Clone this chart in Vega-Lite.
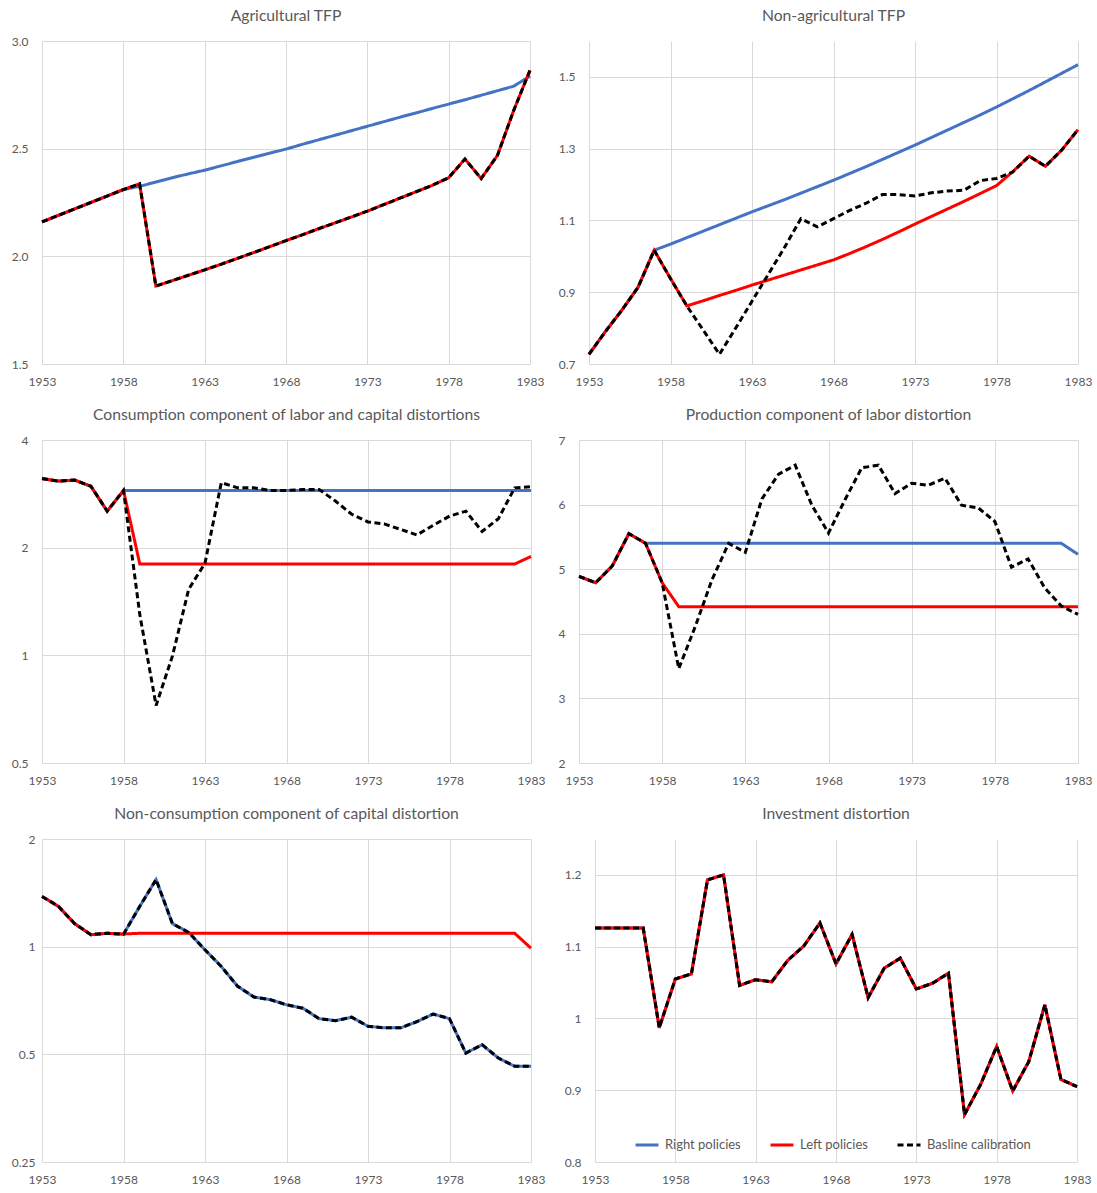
{
  "$schema": "https://vega.github.io/schema/vega-lite/v6.json",
  "padding": {"left": 11, "top": 8, "right": 0, "bottom": 0},
  "background": "#ffffff",
  "config": {
    "font": "Lato",
    "view": {"stroke": null},
    "axis": {"grid": true, "gridColor": "#d9d9d9", "gridWidth": 1, "domain": false, "ticks": false, "tickSize": 0, "labelFont": "Lato", "labelFontSize": 12, "labelColor": "#595959"},
    "axisX": {"labelPadding": 12, "labelFlush": false, "labelOverlap": false, "minExtent": 28},
    "axisY": {"labelPadding": 14},
    "title": {"font": "Lato", "fontSize": 15.7, "fontWeight": "normal", "color": "#595959", "offset": 16, "anchor": "middle"},
    "line": {"strokeCap": "butt"}
  },
  "datasets": {
    "p1": [
      {"y":1953,"R":2.16,"L":2.16,"B":2.16},{"y":1954,"R":2.19,"L":2.19,"B":2.19},{"y":1955,"R":2.22,"L":2.22,"B":2.22},{"y":1956,"R":2.25,"L":2.25,"B":2.25},{"y":1957,"R":2.28,"L":2.28,"B":2.28},{"y":1958,"R":2.31,"L":2.31,"B":2.31},
      {"y":1959,"R":2.325,"L":2.337,"B":2.337},{"y":1960,"R":2.345,"L":1.862,"B":1.862},{"y":1961,"R":2.365,"L":1.887,"B":1.887},{"y":1962,"R":2.383,"L":1.912,"B":1.912},{"y":1963,"R":2.4,"L":1.937,"B":1.937},{"y":1964,"R":2.42,"L":1.963,"B":1.963},{"y":1965,"R":2.44,"L":1.99,"B":1.99},{"y":1966,"R":2.46,"L":2.017,"B":2.017},{"y":1967,"R":2.479,"L":2.045,"B":2.045},{"y":1968,"R":2.498,"L":2.073,"B":2.073},{"y":1969,"R":2.52,"L":2.1,"B":2.1},{"y":1970,"R":2.541,"L":2.128,"B":2.128},{"y":1971,"R":2.562,"L":2.155,"B":2.155},{"y":1972,"R":2.583,"L":2.182,"B":2.182},{"y":1973,"R":2.604,"L":2.21,"B":2.21},{"y":1974,"R":2.625,"L":2.24,"B":2.24},{"y":1975,"R":2.646,"L":2.27,"B":2.27},{"y":1976,"R":2.666,"L":2.3,"B":2.3},{"y":1977,"R":2.687,"L":2.33,"B":2.33},{"y":1978,"R":2.707,"L":2.365,"B":2.365},{"y":1979,"R":2.727,"L":2.452,"B":2.452},{"y":1980,"R":2.748,"L":2.361,"B":2.361},{"y":1981,"R":2.769,"L":2.469,"B":2.469},{"y":1982,"R":2.79,"L":2.678,"B":2.678},{"y":1983,"R":2.837,"L":2.864,"B":2.864}
    ],
    "p2": [
      {"y":1953,"R":0.727,"L":0.727,"B":0.727},{"y":1954,"R":0.79,"L":0.79,"B":0.79},{"y":1955,"R":0.849,"L":0.849,"B":0.849},{"y":1956,"R":0.913,"L":0.913,"B":0.913},{"y":1957,"R":1.017,"L":1.017,"B":1.017},
      {"y":1958,"R":1.034,"L":0.938,"B":0.938},{"y":1959,"R":1.052,"L":0.862,"B":0.862},{"y":1960,"R":1.07,"L":0.876,"B":0.795},{"y":1961,"R":1.088,"L":0.891,"B":0.727},{"y":1962,"R":1.106,"L":0.905,"B":0.8},{"y":1963,"R":1.124,"L":0.92,"B":0.875},{"y":1964,"R":1.141,"L":0.934,"B":0.95},{"y":1965,"R":1.158,"L":0.948,"B":1.025},{"y":1966,"R":1.176,"L":0.962,"B":1.105},{"y":1967,"R":1.194,"L":0.976,"B":1.082},{"y":1968,"R":1.212,"L":0.99,"B":1.105},{"y":1969,"R":1.231,"L":1.008,"B":1.128},{"y":1970,"R":1.25,"L":1.027,"B":1.148},{"y":1971,"R":1.27,"L":1.047,"B":1.172},{"y":1972,"R":1.29,"L":1.068,"B":1.172},{"y":1973,"R":1.31,"L":1.09,"B":1.168},{"y":1974,"R":1.331,"L":1.111,"B":1.177},{"y":1975,"R":1.352,"L":1.132,"B":1.182},{"y":1976,"R":1.373,"L":1.153,"B":1.184},{"y":1977,"R":1.394,"L":1.175,"B":1.211},{"y":1978,"R":1.416,"L":1.197,"B":1.217},{"y":1979,"R":1.439,"L":1.236,"B":1.235},{"y":1980,"R":1.462,"L":1.279,"B":1.279},{"y":1981,"R":1.486,"L":1.251,"B":1.251},{"y":1982,"R":1.51,"L":1.296,"B":1.296},{"y":1983,"R":1.534,"L":1.353,"B":1.353}
    ],
    "p3": [
      {"y":1953,"R":3.12,"L":3.12,"B":3.12},{"y":1954,"R":3.07,"L":3.07,"B":3.07},{"y":1955,"R":3.09,"L":3.09,"B":3.09},{"y":1956,"R":2.97,"L":2.97,"B":2.97},{"y":1957,"R":2.53,"L":2.53,"B":2.53},{"y":1958,"R":2.89,"L":2.89,"B":2.89},
      {"y":1959,"R":2.89,"L":1.8,"B":1.3},{"y":1960,"R":2.89,"L":1.8,"B":0.724},{"y":1961,"R":2.89,"L":1.8,"B":0.995},{"y":1962,"R":2.89,"L":1.8,"B":1.53},{"y":1963,"R":2.89,"L":1.8,"B":1.81},{"y":1964,"R":2.89,"L":1.8,"B":3.04},{"y":1965,"R":2.89,"L":1.8,"B":2.94},{"y":1966,"R":2.89,"L":1.8,"B":2.94},{"y":1967,"R":2.89,"L":1.8,"B":2.89},{"y":1968,"R":2.89,"L":1.8,"B":2.89},{"y":1969,"R":2.89,"L":1.8,"B":2.91},{"y":1970,"R":2.89,"L":1.8,"B":2.91},{"y":1971,"R":2.89,"L":1.8,"B":2.7},{"y":1972,"R":2.89,"L":1.8,"B":2.48},{"y":1973,"R":2.89,"L":1.8,"B":2.36},{"y":1974,"R":2.89,"L":1.8,"B":2.33},{"y":1975,"R":2.89,"L":1.8,"B":2.25},{"y":1976,"R":2.89,"L":1.8,"B":2.17},{"y":1977,"R":2.89,"L":1.8,"B":2.31},{"y":1978,"R":2.89,"L":1.8,"B":2.45},{"y":1979,"R":2.89,"L":1.8,"B":2.53},{"y":1980,"R":2.89,"L":1.8,"B":2.22},{"y":1981,"R":2.89,"L":1.8,"B":2.41},{"y":1982,"R":2.89,"L":1.8,"B":2.94},{"y":1983,"R":2.89,"L":1.89,"B":2.96}
    ],
    "p4": [
      {"y":1953,"R":4.89,"L":4.89,"B":4.89},{"y":1954,"R":4.79,"L":4.79,"B":4.79},{"y":1955,"R":5.05,"L":5.05,"B":5.05},{"y":1956,"R":5.55,"L":5.55,"B":5.55},{"y":1957,"R":5.4,"L":5.4,"B":5.4},
      {"y":1958,"R":5.4,"L":4.79,"B":4.79},{"y":1959,"R":5.4,"L":4.42,"B":3.46},{"y":1960,"R":5.4,"L":4.42,"B":4.12},{"y":1961,"R":5.4,"L":4.42,"B":4.84},{"y":1962,"R":5.4,"L":4.42,"B":5.4},{"y":1963,"R":5.4,"L":4.42,"B":5.26},{"y":1964,"R":5.4,"L":4.42,"B":6.09},{"y":1965,"R":5.4,"L":4.42,"B":6.47},{"y":1966,"R":5.4,"L":4.42,"B":6.61},{"y":1967,"R":5.4,"L":4.42,"B":5.99},{"y":1968,"R":5.4,"L":4.42,"B":5.56},{"y":1969,"R":5.4,"L":4.42,"B":6.08},{"y":1970,"R":5.4,"L":4.42,"B":6.57},{"y":1971,"R":5.4,"L":4.42,"B":6.61},{"y":1972,"R":5.4,"L":4.42,"B":6.17},{"y":1973,"R":5.4,"L":4.42,"B":6.33},{"y":1974,"R":5.4,"L":4.42,"B":6.3},{"y":1975,"R":5.4,"L":4.42,"B":6.41},{"y":1976,"R":5.4,"L":4.42,"B":5.99},{"y":1977,"R":5.4,"L":4.42,"B":5.95},{"y":1978,"R":5.4,"L":4.42,"B":5.74},{"y":1979,"R":5.4,"L":4.42,"B":5.03},{"y":1980,"R":5.4,"L":4.42,"B":5.16},{"y":1981,"R":5.4,"L":4.42,"B":4.71},{"y":1982,"R":5.4,"L":4.42,"B":4.43},{"y":1983,"R":5.23,"L":4.42,"B":4.3}
    ],
    "p5": [
      {"y":1953,"R":1.382,"L":1.382,"B":1.382},{"y":1954,"R":1.297,"L":1.297,"B":1.297},{"y":1955,"R":1.16,"L":1.16,"B":1.16},{"y":1956,"R":1.08,"L":1.08,"B":1.08},{"y":1957,"R":1.09,"L":1.09,"B":1.09},{"y":1958,"R":1.083,"L":1.085,"B":1.083},
      {"y":1959,"R":1.297,"L":1.09,"B":1.297},{"y":1960,"R":1.54,"L":1.09,"B":1.54},{"y":1961,"R":1.16,"L":1.09,"B":1.16},{"y":1962,"R":1.096,"L":1.09,"B":1.096},{"y":1963,"R":0.98,"L":1.09,"B":0.98},{"y":1964,"R":0.88,"L":1.09,"B":0.88},{"y":1965,"R":0.775,"L":1.09,"B":0.775},{"y":1966,"R":0.723,"L":1.09,"B":0.723},{"y":1967,"R":0.711,"L":1.09,"B":0.711},{"y":1968,"R":0.688,"L":1.09,"B":0.688},{"y":1969,"R":0.673,"L":1.09,"B":0.673},{"y":1970,"R":0.629,"L":1.09,"B":0.629},{"y":1971,"R":0.621,"L":1.09,"B":0.621},{"y":1972,"R":0.635,"L":1.09,"B":0.635},{"y":1973,"R":0.599,"L":1.09,"B":0.599},{"y":1974,"R":0.593,"L":1.09,"B":0.593},{"y":1975,"R":0.593,"L":1.09,"B":0.593},{"y":1976,"R":0.617,"L":1.09,"B":0.617},{"y":1977,"R":0.648,"L":1.09,"B":0.648},{"y":1978,"R":0.629,"L":1.09,"B":0.629},{"y":1979,"R":0.504,"L":1.09,"B":0.504},{"y":1980,"R":0.532,"L":1.09,"B":0.532},{"y":1981,"R":0.488,"L":1.09,"B":0.488},{"y":1982,"R":0.463,"L":1.09,"B":0.463},{"y":1983,"R":0.463,"L":0.99,"B":0.463}
    ],
    "p6": [
      {"y":1953,"R":1.126,"L":1.126,"B":1.126},{"y":1954,"R":1.126,"L":1.126,"B":1.126},{"y":1955,"R":1.126,"L":1.126,"B":1.126},{"y":1956,"R":1.126,"L":1.126,"B":1.126},{"y":1957,"R":0.987,"L":0.987,"B":0.987},{"y":1958,"R":1.055,"L":1.055,"B":1.055},{"y":1959,"R":1.062,"L":1.062,"B":1.062},{"y":1960,"R":1.193,"L":1.193,"B":1.193},{"y":1961,"R":1.2,"L":1.2,"B":1.2},{"y":1962,"R":1.046,"L":1.046,"B":1.046},{"y":1963,"R":1.054,"L":1.054,"B":1.054},{"y":1964,"R":1.051,"L":1.051,"B":1.051},{"y":1965,"R":1.081,"L":1.081,"B":1.081},{"y":1966,"R":1.101,"L":1.101,"B":1.101},{"y":1967,"R":1.133,"L":1.133,"B":1.133},{"y":1968,"R":1.076,"L":1.076,"B":1.076},{"y":1969,"R":1.117,"L":1.117,"B":1.117},{"y":1970,"R":1.029,"L":1.029,"B":1.029},{"y":1971,"R":1.07,"L":1.07,"B":1.07},{"y":1972,"R":1.084,"L":1.084,"B":1.084},{"y":1973,"R":1.041,"L":1.041,"B":1.041},{"y":1974,"R":1.049,"L":1.049,"B":1.049},{"y":1975,"R":1.063,"L":1.063,"B":1.063},{"y":1976,"R":0.866,"L":0.866,"B":0.866},{"y":1977,"R":0.908,"L":0.908,"B":0.908},{"y":1978,"R":0.961,"L":0.961,"B":0.961},{"y":1979,"R":0.899,"L":0.899,"B":0.899},{"y":1980,"R":0.94,"L":0.94,"B":0.94},{"y":1981,"R":1.019,"L":1.019,"B":1.019},{"y":1982,"R":0.915,"L":0.915,"B":0.915},{"y":1983,"R":0.905,"L":0.905,"B":0.905}
    ]
  },
  "resolve": {"legend": {"color": "independent", "strokeDash": "independent"}},
  "columns": 2,
  "align": "none",
  "spacing": {"row": 15, "column": 13},
  "concat": [
    {
      "width": 488, "height": 323, "title": {"text": "Agricultural TFP", "offset": 10},
      "data": {"name": "p1"},
      "transform": [{"fold": ["R", "L", "B"], "as": ["s", "v"]}],
      "mark": {"type": "line"},
      "encoding": {
        "x": {"field": "y", "type": "quantitative", "title": null, "scale": {"domain": [1953, 1983], "nice": false, "zero": false}, "axis": {"values": [1953, 1958, 1963, 1968, 1973, 1978, 1983], "format": "d"}},
        "y": {"field": "v", "type": "quantitative", "title": null, "scale": {"domain": [1.5, 3], "nice": false, "zero": false}, "axis": {"values": [1.5, 2, 2.5, 3], "format": ".1f", "minExtent": 30}},
        "color": {"field": "s", "type": "nominal", "scale": {"domain": ["R", "L", "B"], "range": ["#4472C4", "#FF0000", "#000000"]}, "legend": null},
        "strokeDash": {"field": "s", "type": "nominal", "scale": {"domain": ["R", "L", "B"], "range": [[1, 0], [1, 0], [6, 3.5]]}, "legend": null},
        "strokeWidth": {"field": "s", "type": "ordinal", "scale": {"domain": ["R", "L", "B"], "range": [3, 3, 2.25]}, "legend": null}
      }
    },
    {
      "width": 489, "height": 323, "title": {"text": "Non-agricultural TFP", "offset": 16},
      "data": {"name": "p2"},
      "transform": [{"fold": ["R", "L", "B"], "as": ["s", "v"]}],
      "mark": {"type": "line"},
      "encoding": {
        "x": {"field": "y", "type": "quantitative", "title": null, "scale": {"domain": [1953, 1983], "nice": false, "zero": false}, "axis": {"values": [1953, 1958, 1963, 1968, 1973, 1978, 1983], "format": "d"}},
        "y": {"field": "v", "type": "quantitative", "title": null, "scale": {"domain": [0.7, 1.6], "nice": false, "zero": false}, "axis": {"values": [0.7, 0.9, 1.1, 1.3, 1.5], "format": ".1f", "minExtent": 31}},
        "color": {"field": "s", "type": "nominal", "scale": {"domain": ["R", "L", "B"], "range": ["#4472C4", "#FF0000", "#000000"]}, "legend": null},
        "strokeDash": {"field": "s", "type": "nominal", "scale": {"domain": ["R", "L", "B"], "range": [[1, 0], [1, 0], [6, 3.5]]}, "legend": null},
        "strokeWidth": {"field": "s", "type": "ordinal", "scale": {"domain": ["R", "L", "B"], "range": [3, 3, 2.25]}, "legend": null}
      }
    },
    {
      "width": 489, "height": 323, "title": {"text": "Consumption component of labor and capital distortions", "offset": 10},
      "data": {"name": "p3"},
      "transform": [{"fold": ["R", "L", "B"], "as": ["s", "v"]}],
      "mark": {"type": "line"},
      "encoding": {
        "x": {"field": "y", "type": "quantitative", "title": null, "scale": {"domain": [1953, 1983], "nice": false, "zero": false}, "axis": {"values": [1953, 1958, 1963, 1968, 1973, 1978, 1983], "format": "d"}},
        "y": {"field": "v", "type": "quantitative", "title": null, "scale": {"type": "log", "base": 2, "domain": [0.5, 4], "nice": false}, "axis": {"values": [0.5, 1, 2, 4], "format": "~g", "minExtent": 30}},
        "color": {"field": "s", "type": "nominal", "scale": {"domain": ["R", "L", "B"], "range": ["#4472C4", "#FF0000", "#000000"]}, "legend": null},
        "strokeDash": {"field": "s", "type": "nominal", "scale": {"domain": ["R", "L", "B"], "range": [[1, 0], [1, 0], [6, 3.5]]}, "legend": null},
        "strokeWidth": {"field": "s", "type": "ordinal", "scale": {"domain": ["R", "L", "B"], "range": [3, 3, 2.25]}, "legend": null}
      }
    },
    {
      "width": 499, "height": 323, "title": {"text": "Production component of labor distortion", "offset": 10},
      "data": {"name": "p4"},
      "transform": [{"fold": ["R", "L", "B"], "as": ["s", "v"]}],
      "mark": {"type": "line"},
      "encoding": {
        "x": {"field": "y", "type": "quantitative", "title": null, "scale": {"domain": [1953, 1983], "nice": false, "zero": false}, "axis": {"values": [1953, 1958, 1963, 1968, 1973, 1978, 1983], "format": "d"}},
        "y": {"field": "v", "type": "quantitative", "title": null, "scale": {"domain": [2, 7], "nice": false, "zero": false}, "axis": {"values": [2, 3, 4, 5, 6, 7], "format": "d", "minExtent": 20}},
        "color": {"field": "s", "type": "nominal", "scale": {"domain": ["R", "L", "B"], "range": ["#4472C4", "#FF0000", "#000000"]}, "legend": null},
        "strokeDash": {"field": "s", "type": "nominal", "scale": {"domain": ["R", "L", "B"], "range": [[1, 0], [1, 0], [6, 3.5]]}, "legend": null},
        "strokeWidth": {"field": "s", "type": "ordinal", "scale": {"domain": ["R", "L", "B"], "range": [3, 3, 2.25]}, "legend": null}
      }
    },
    {
      "width": 489, "height": 323, "title": {"text": "Non-consumption component of capital distortion", "offset": 10},
      "data": {"name": "p5"},
      "transform": [{"fold": ["R", "L", "B"], "as": ["s", "v"]}],
      "mark": {"type": "line"},
      "encoding": {
        "x": {"field": "y", "type": "quantitative", "title": null, "scale": {"domain": [1953, 1983], "nice": false, "zero": false}, "axis": {"values": [1953, 1958, 1963, 1968, 1973, 1978, 1983], "format": "d"}},
        "y": {"field": "v", "type": "quantitative", "title": null, "scale": {"type": "log", "base": 2, "domain": [0.25, 2], "nice": false}, "axis": {"values": [0.25, 0.5, 1, 2], "format": "~g", "labelPadding": 7, "minExtent": 30}},
        "color": {"field": "s", "type": "nominal", "scale": {"domain": ["R", "L", "B"], "range": ["#4472C4", "#FF0000", "#000000"]}, "legend": null},
        "strokeDash": {"field": "s", "type": "nominal", "scale": {"domain": ["R", "L", "B"], "range": [[1, 0], [1, 0], [6, 3.5]]}, "legend": null},
        "strokeWidth": {"field": "s", "type": "ordinal", "scale": {"domain": ["R", "L", "B"], "range": [3, 3, 2.25]}, "legend": null}
      }
    },
    {
      "width": 482, "height": 323, "title": {"text": "Investment distortion", "offset": 16},
      "data": {"name": "p6"},
      "transform": [{"fold": ["R", "L", "B"], "as": ["s", "v"]}],
      "mark": {"type": "line"},
      "encoding": {
        "x": {"field": "y", "type": "quantitative", "title": null, "scale": {"domain": [1953, 1983], "nice": false, "zero": false}, "axis": {"values": [1953, 1958, 1963, 1968, 1973, 1978, 1983], "format": "d"}},
        "y": {"field": "v", "type": "quantitative", "title": null, "scale": {"domain": [0.8, 1.25], "nice": false, "zero": false}, "axis": {"values": [0.8, 0.9, 1, 1.1, 1.2], "format": "~g", "minExtent": 37}},
        "color": {"field": "s", "type": "nominal", "scale": {"domain": ["R", "L", "B"], "range": ["#4472C4", "#FF0000", "#000000"]},
          "legend": {"orient": "none", "direction": "horizontal", "legendX": 39, "legendY": 293, "title": null, "labelExpr": "datum.label == 'R' ? 'Right policies' : datum.label == 'L' ? 'Left policies' : 'Basline calibration'", "symbolType": "stroke", "symbolSize": 529, "symbolStrokeWidth": 3, "labelFont": "Lato", "labelFontSize": 13, "labelColor": "#595959", "columnPadding": 23, "labelOffset": 5, "padding": 0}},
        "strokeDash": {"field": "s", "type": "nominal", "scale": {"domain": ["R", "L", "B"], "range": [[1, 0], [1, 0], [6, 3.5]]},
          "legend": {"orient": "none", "direction": "horizontal", "legendX": 39, "legendY": 293, "title": null, "labelExpr": "datum.label == 'R' ? 'Right policies' : datum.label == 'L' ? 'Left policies' : 'Basline calibration'", "symbolType": "stroke", "symbolSize": 529, "symbolStrokeWidth": 3, "labelFont": "Lato", "labelFontSize": 13, "labelColor": "#595959", "columnPadding": 23, "labelOffset": 5, "padding": 0}},
        "strokeWidth": {"field": "s", "type": "ordinal", "scale": {"domain": ["R", "L", "B"], "range": [3, 3, 2.25]}, "legend": null}
      }
    }
  ]
}
